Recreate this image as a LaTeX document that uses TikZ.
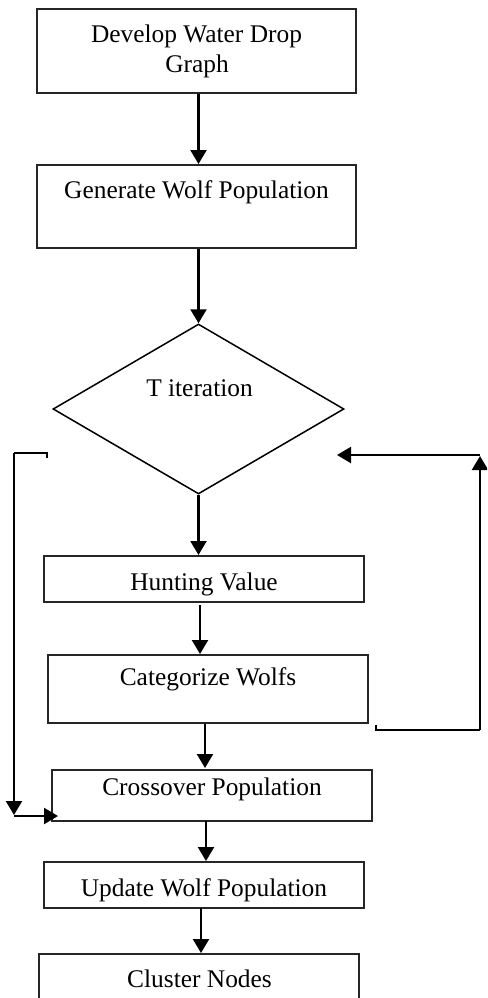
\documentclass[tikz,border=0pt]{standalone}
\usepackage{fontspec}
\setmainfont{Liberation Serif}
\usetikzlibrary{arrows.meta,shapes.geometric}
\begin{document}
\begin{tikzpicture}[x=1pt,y=-1pt,
  box/.style={draw=black!85, line width=2pt, inner sep=0pt, rectangle},
  dia/.style={draw, line width=1.5pt, diamond, inner sep=0pt},
  txt/.style={font=\fontsize{25.4}{28}\selectfont, inner sep=0pt, anchor=base},
  arr/.style={line width=2.2pt, -{Triangle[width=16pt,length=14pt]}},
  ln/.style={line width=2.2pt}]
\clip (0,0) rectangle (487,998);
% boxes
\node[box, minimum width=319pt, minimum height=84pt] (b1) at (196.5,51) {};
\node[box, minimum width=319pt, minimum height=83pt] (b2) at (196.5,206.5) {};
\node[dia, minimum width=291pt, minimum height=170pt] (d) at (198.5,409) {};
\node[box, minimum width=320pt, minimum height=46pt] (b3) at (204,579) {};
\node[box, minimum width=320pt, minimum height=68pt] (b4) at (208,689) {};
\node[box, minimum width=320pt, minimum height=51pt] (b5) at (212,795.5) {};
\node[box, minimum width=320pt, minimum height=46pt] (b6) at (204,885) {};
\node[box, minimum width=320pt, minimum height=90pt] (b7) at (199,999) {};
% texts
\node[txt] (t1a) at (196.5,43) {Develop Water Drop};
\node[txt] (t1b) at (197,72) {Graph};
\node[txt] (t2) at (196.5,198) {Generate Wolf Population};
\node[txt] (td) at (199.5,396) {T iteration};
\node[txt] (t3) at (204,590) {Hunting Value};
\node[txt] (t4) at (208,685) {Categorize Wolfs};
\node[txt] (t5) at (212,795) {Crossover Population};
\node[txt] (t6) at (204,896) {Update Wolf Population};
\node[txt] (t7) at (199.5,987) {Cluster Nodes};
% main arrows
\coordinate (a1e) at (198.5,164);
\draw[arr] (b1.south -| d.north) -- (a1e);
\draw[arr] (b2.south -| d.north) -- (d.north);
\coordinate (a3e) at (198.5,555);
\draw[arr] (d.south) -- (a3e);
\coordinate (a4s) at (200,605);
\coordinate (a4e) at (200,654);
\draw[arr] (a4s) -- (a4e);
\coordinate (a5s) at (205,724);
\coordinate (a5e) at (205,768);
\draw[arr] (a5s) -- (a5e);
\coordinate (a6s) at (206,821);
\coordinate (a6e) at (206,861);
\draw[arr] (a6s) -- (a6e);
\coordinate (a7s) at (201,908);
\coordinate (a7e) at (201,953);
\draw[arr] (a7s) -- (a7e);
% right feedback loop
\coordinate (r0) at (376,725);
\coordinate (r1) at (376,730);
\coordinate (r2) at (480,730);
\coordinate (r3) at (480,456);
\coordinate (r3b) at (480,455);
\coordinate (r4) at (337,455);
\draw[ln] (r0) -- (r1) -- (r2);
\draw[arr] (r2) -- (r3);
\draw[arr] (r3b) -- (r4);
% left bypass
\coordinate (l0) at (47,458);
\coordinate (l1) at (47,453);
\coordinate (l2) at (14,453);
\coordinate (l3) at (14,815);
\coordinate (l4) at (14,816);
\coordinate (l5) at (58,816);
\draw[ln] (l0) -- (l1) -- (l2);
\draw[arr] (l2) -- (l3);
\draw[arr] (l4) -- (l5);
\end{tikzpicture}
\end{document}
